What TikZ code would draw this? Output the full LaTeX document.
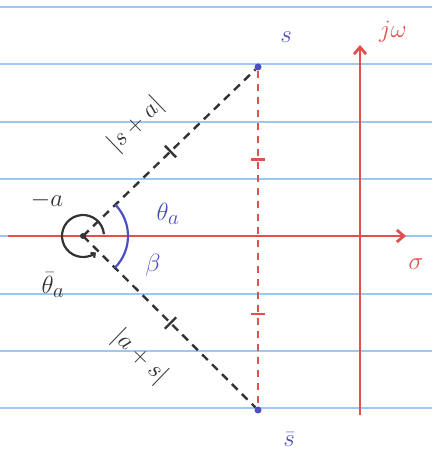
\documentclass[tikz,border=0pt]{standalone}
\usetikzlibrary{arrows.meta, calc}

\definecolor{ruleblue}{HTML}{9CC8F2}
\definecolor{penred}{HTML}{E2504C}
\definecolor{penblue}{HTML}{4B4FC4}
\definecolor{penblack}{HTML}{333333}

\begin{document}
\begin{tikzpicture}[x=1pt, y=1pt, font=\fontsize{29}{31}\selectfont]
    \tikzstyle{rule} = [ruleblue, line width=1.4pt]
    \tikzstyle{axis} = [penred, line width=2.8pt, -{Straight Barb[length=7pt, width=12pt]}]
    \tikzstyle{vec} = [penblack, line width=2.4pt, dash pattern=on 8pt off 6pt]
    \tikzstyle{gap} = [penred, line width=2.4pt, dash pattern=on 7pt off 6pt]
    \tikzstyle{dot} = [circle, fill=penblue, inner sep=0pt, minimum size=7pt]
    \tikzstyle{hash} = [line width=2.4pt]

    \useasboundingbox (0,0) rectangle (432,457);
    \fill[white] (0,0) rectangle (432,457);

    % Ruled paper
    \foreach \y in {450,393,335,278,221,163,106,49}
        \draw[rule] (0,\y) -- (432,\y);

    % Axes
    \coordinate (re_start) at (8,221);
    \coordinate (re_end) at (406,221);
    \coordinate (im_start) at (360,42);
    \coordinate (im_end) at (360,412);
    \draw[axis] (re_start) -- (re_end);
    \draw[axis] (im_start) -- (im_end);
    \node[penred] (sigma) at (416,193) {$\sigma$};
    \node[penred] (jw) at (393,425) {$j\omega$};

    % Points
    \node[dot] (s) at (258,390) {};
    \node[dot] (sbar) at (258,47) {};
    \coordinate (pole) at (83,221);
    \node[penblue] (s_lbl) at (286,420) {$s$};
    \node[penblue] (sbar_lbl) at (289,17) {$\bar{s}$};

    % Vectors from -a
    \draw[vec] (pole) -- (s);
    \draw[vec] (pole) -- (sbar);
    \coordinate (m_up) at ($(pole)!0.5!(s)$);
    \coordinate (m_dn) at ($(pole)!0.5!(sbar)$);
    \draw[hash, penblack] ($(m_up)!8pt!90:(s)$) -- ($(m_up)!8pt!-90:(s)$);
    \draw[hash, penblack] ($(m_dn)!8pt!90:(sbar)$) -- ($(m_dn)!8pt!-90:(sbar)$);
    \fill[penblack] (pole) circle (3pt);

    % Distance s to sbar
    \draw[gap] (s) -- (sbar);
    \coordinate (h_up) at ($(s)!0.27!(sbar)$);
    \coordinate (h_dn) at ($(s)!0.72!(sbar)$);
    \draw[hash, penred] ($(h_up)+(-7,0)$) -- ($(h_up)+(7,0)$);
    \draw[hash, penred] ($(h_dn)+(-7,0)$) -- ($(h_dn)+(7,0)$);

    % Angles
    \draw[penblack, line width=2.2pt, -{Straight Barb[length=3pt, width=6pt]}] ([shift={(5:21)}]pole) arc[start angle=5, end angle=308, radius=21];
    \draw[penblue, line width=2.2pt] ([shift={(44:45)}]pole) arc[start angle=44, end angle=-45, radius=45];

    % Labels
    \node[penblack] (minus_a) at (47,257) {$-a$};
    \node[penblack] (theta_bar) at (53,172) {$\bar{\theta}_a$};
    \node[penblue] (theta_a) at (168,243) {$\theta_a$};
    \node[penblue] (beta) at (153,192) {$\beta$};
    \node[penblack, rotate=44, inner sep=0pt] (len_up) at (136,332) {$|s+a|$};
    \node[penblack, rotate=-44, inner sep=0pt] (len_dn) at (140,100) {$|a+s|$};
\end{tikzpicture}
\end{document}
